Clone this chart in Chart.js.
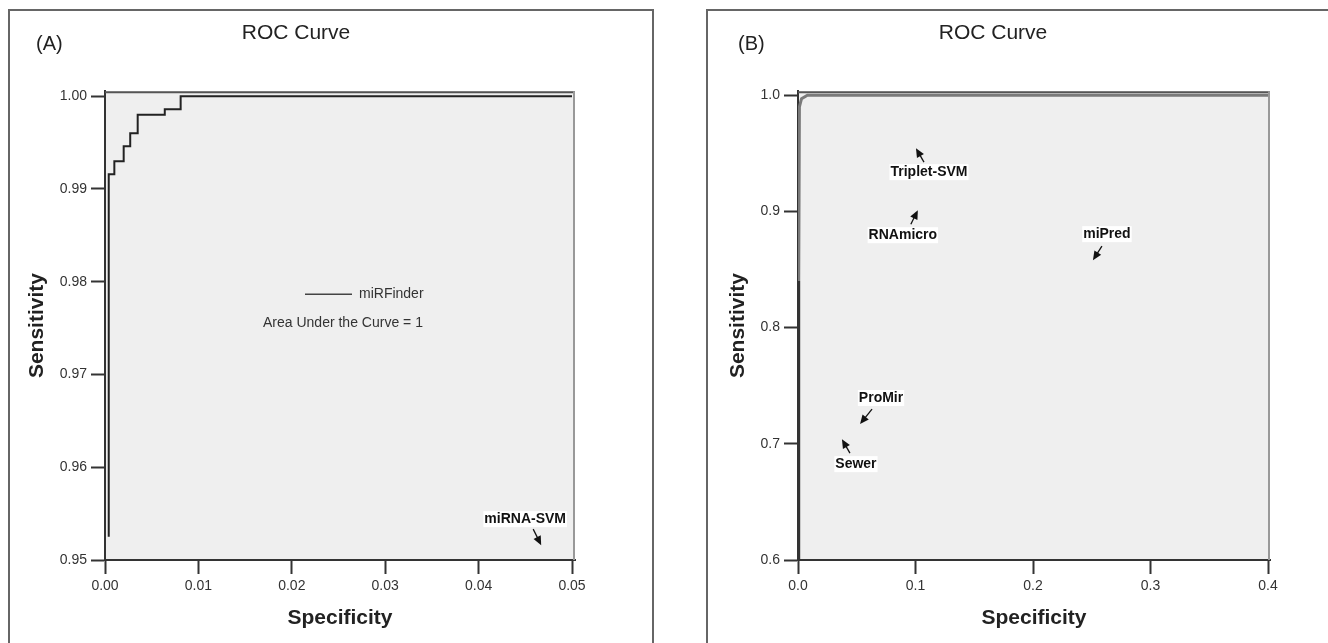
<!DOCTYPE html>
<html>
<head>
<meta charset="utf-8">
<script src="https://cdn.jsdelivr.net/npm/chart.js@4.4.1/dist/chart.umd.min.js"></script>
<style>
  body { margin: 0; background: #fff; width: 1328px; height: 643px; overflow: hidden; position: relative;
         font-family: 'Liberation Sans', Arial, sans-serif; }
  .frame { position: absolute; border: 2px solid #666; box-sizing: border-box; }
  #frameA { left: 8px; top: 9px; width: 646px; height: 720px; }
  #frameB { left: 706px; top: 9px; width: 700px; height: 720px; }
  .tag { position: absolute; font-size: 20px; line-height: 20px; color: #222; }
  canvas { position: absolute; top: 0; }
  #chartA { left: 0; }
  #chartB { left: 690px; }
</style>
</head>
<body>
<div class="frame" id="frameA"></div>
<div class="frame" id="frameB"></div>
<canvas id="chartA" width="665" height="643"></canvas>
<canvas id="chartB" width="638" height="643"></canvas>
<div class="tag" style="left:36px;top:33px">(A)</div>
<div class="tag" style="left:738px;top:33px">(B)</div>
<script>
// panel A: miRFinder
const xTicksA = [0, 0.01, 0.02, 0.03, 0.04, 0.05];
const yTicksA = [0.95, 0.96, 0.97, 0.98, 0.99, 1.00];
const specA = [0.0004, 0.0004, 0.0010, 0.0010, 0.0020, 0.0020, 0.0027, 0.0027, 0.0035, 0.0035, 0.0064, 0.0064, 0.0081, 0.0081, 0.05];
const sensA = [0.9525, 0.9916, 0.9916, 0.9930, 0.9930, 0.9946, 0.9946, 0.9960, 0.9960, 0.9980, 0.9980, 0.9986, 0.9986, 1.0, 1.0];
const aucA = 1;
const markNamesA = ['miRNA-SVM'];
const markSpecA = [0.0467];
const markSensA = [0.9516];

// panel B: comparison with other tools
const xTicksB = [0, 0.1, 0.2, 0.3, 0.4];
const yTicksB = [0.6, 0.7, 0.8, 0.9, 1.0];
const specB = [0.0006, 0.0006, 0.0012, 0.003, 0.008, 0.4];
const sensB = [0.6, 0.84, 0.99, 0.997, 1.0, 1.0];
const markNamesB = ['Triplet-SVM', 'RNAmicro', 'miPred', 'ProMir', 'Sewer'];
const markSpecB = [0.1004, 0.102, 0.251, 0.0528, 0.0374];
const markSensB = [0.9544, 0.901, 0.858, 0.717, 0.704];

const FONT = "'Liberation Sans', Arial, sans-serif";

// where each arrow tail and label sit, in px from the arrow tip
const arrowLayout = {
  'miRNA-SVM': { tail: [-8, -16], label: [-16, -26] },
  'Triplet-SVM': { tail: [8, 14], label: [13, 24] },
  'RNAmicro': { tail: [-7, 14], label: [-15, 25] },
  'miPred': { tail: [9, -14], label: [14, -26] },
  'ProMir': { tail: [12, -15], label: [21, -26] },
  'Sewer': { tail: [8, 14], label: [14, 25] }
};

const plotFrame = {
  id: 'plotFrame',
  beforeDraw(chart) {
    const { ctx, chartArea: a } = chart;
    ctx.save();
    ctx.fillStyle = '#efefef';
    ctx.fillRect(a.left, a.top, a.right - a.left, a.bottom - a.top);
    ctx.restore();
  },
  beforeDatasetsDraw(chart) {
    const { ctx, chartArea: a } = chart;
    ctx.save();
    ctx.lineWidth = 2;
    ctx.strokeStyle = '#555';
    ctx.beginPath();
    ctx.moveTo(a.left, a.top + 1);
    ctx.lineTo(a.right, a.top + 1);
    ctx.stroke();
    ctx.strokeStyle = '#999';
    ctx.beginPath();
    ctx.moveTo(a.right - 1, a.top);
    ctx.lineTo(a.right - 1, a.bottom);
    ctx.stroke();
    ctx.restore();
  },
  afterDatasetsDraw(chart, args, opts) {
    const { ctx, scales: { x, y } } = chart;
    ctx.save();
    ctx.font = 'bold 14px ' + FONT;
    ctx.textAlign = 'center';
    ctx.textBaseline = 'middle';
    opts.names.forEach((name, i) => {
      const tx = x.getPixelForValue(opts.spec[i]);
      const ty = y.getPixelForValue(opts.sens[i]);
      const lay = arrowLayout[name];
      const sx = tx + lay.tail[0], sy = ty + lay.tail[1];
      const lx = tx + lay.label[0], ly = ty + lay.label[1];
      const w = ctx.measureText(name).width;
      ctx.fillStyle = '#fff';
      ctx.fillRect(lx - w / 2 - 1, ly - 8, w + 2, 16);
      ctx.fillStyle = '#111';
      ctx.fillText(name, lx, ly);
      // arrow
      const ang = Math.atan2(ty - sy, tx - sx);
      ctx.strokeStyle = '#111';
      ctx.lineWidth = 1.3;
      ctx.beginPath();
      ctx.moveTo(sx, sy);
      ctx.lineTo(tx - 6 * Math.cos(ang), ty - 6 * Math.sin(ang));
      ctx.stroke();
      ctx.beginPath();
      ctx.moveTo(tx, ty);
      ctx.lineTo(tx - 9 * Math.cos(ang) + 4 * Math.sin(ang), ty - 9 * Math.sin(ang) - 4 * Math.cos(ang));
      ctx.lineTo(tx - 9 * Math.cos(ang) - 4 * Math.sin(ang), ty - 9 * Math.sin(ang) + 4 * Math.cos(ang));
      ctx.closePath();
      ctx.fill();
    });
    if (opts.legend) {
      const a = chart.chartArea;
      const ds = chart.data.datasets[0];
      ctx.strokeStyle = '#444';
      ctx.lineWidth = 1.5;
      ctx.beginPath();
      ctx.moveTo(a.left + 200, a.top + 203);
      ctx.lineTo(a.left + 247, a.top + 203);
      ctx.stroke();
      ctx.font = '14px ' + FONT;
      ctx.fillStyle = '#333';
      ctx.textAlign = 'left';
      ctx.fillText(ds.label, a.left + 254, a.top + 203);
      ctx.fillText('Area Under the Curve = ' + opts.auc, a.left + 158, a.top + 232);
    }
    ctx.restore();
  }
};

function axis(min, max, ticks, digits, title, titlePad, fitFn) {
  return {
    type: 'linear', min: min, max: max,
    afterBuildTicks: s => { s.ticks = ticks.map(v => ({ value: v })); },
    afterFit: fitFn,
    ticks: { callback: v => v.toFixed(digits), color: '#333', font: { family: FONT, size: 14 }, padding: 4, autoSkip: false, maxRotation: 0 },
    grid: { drawOnChartArea: false, drawTicks: true, tickLength: 14, tickColor: '#333', tickWidth: 2 },
    border: { display: true, color: '#333', width: 2 },
    title: { display: true, text: title, color: '#222', font: { family: FONT, size: 21, weight: 'bold' }, padding: titlePad }
  };
}

function rocChart(id, ds, pad, yWidth, xr, yr, marks) {
  return new Chart(document.getElementById(id), {
    type: 'scatter',
    data: { datasets: [ds] },
    options: {
      responsive: false,
      animation: false,
      layout: { padding: pad },
      scales: {
        x: axis(xr[0], xr[1], xr[2], xr[3], 'Specificity', { top: 0, bottom: 12 }, s => { s.height = 83; }),
        y: axis(yr[0], yr[1], yr[2], yr[3], 'Sensitivity', { top: pad.yTitle, bottom: 0 }, s => { s.width = yWidth; })
      },
      plugins: {
        legend: { display: false },
        tooltip: { enabled: false },
        title: { display: true, text: 'ROC Curve', color: '#222', font: { family: FONT, size: 21, weight: 'normal' }, padding: { top: 21, bottom: 45 } },
        plotFrame: marks
      }
    },
    plugins: [plotFrame]
  });
}

rocChart('chartA', {
  label: 'miRFinder',
  data: specA.map((v, i) => ({ x: v, y: sensA[i] })),
  showLine: true, pointRadius: 0, borderColor: '#222', borderWidth: 2
}, { left: 17, right: 90, top: 0, bottom: 0, yTitle: 8 }, 88,
  [0, 0.05032, xTicksA, 2], [0.95, 1.00054, yTicksA, 2],
  { names: markNamesA, spec: markSpecA, sens: markSensA, legend: true, auc: aucA });

rocChart('chartB', {
  label: 'miRFinder',
  data: specB.map((v, i) => ({ x: v, y: sensB[i] })),
  showLine: true, pointRadius: 0, borderWidth: 3, borderColor: '#7a7a7a',
  segment: { borderColor: c => c.p1.parsed.y <= 0.84 ? '#333' : '#7a7a7a' }
}, { left: 26, right: 58, top: 0, bottom: 0, yTitle: 10 }, 82,
  [0, 0.4017, xTicksB, 1], [0.6, 1.0034, yTicksB, 1],
  { names: markNamesB, spec: markSpecB, sens: markSensB, legend: false });
</script>
</body>
</html>
